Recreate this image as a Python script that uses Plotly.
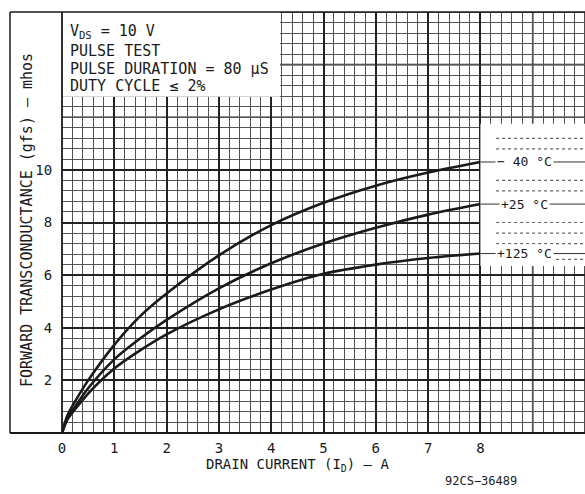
import plotly.graph_objects as go

# ---- data ----
drain_current = [0, 0.1, 0.25, 0.5, 1, 1.5, 2, 3, 4, 5, 6, 7, 8]
gfs_minus40 = [0, 0.65, 1.2, 2.0, 3.35, 4.45, 5.3, 6.75, 7.9, 8.75, 9.4, 9.9, 10.3]
gfs_plus25 = [0, 0.55, 1.0, 1.7, 2.8, 3.6, 4.3, 5.5, 6.45, 7.2, 7.8, 8.3, 8.7]
gfs_plus125 = [0, 0.5, 0.9, 1.5, 2.45, 3.15, 3.75, 4.7, 5.45, 6.05, 6.4, 6.65, 6.82]
series_labels = ["\u2212 40 \u00b0C", "+25 \u00b0C", "+125 \u00b0C"]

x_tick_vals = [0, 1, 2, 3, 4, 5, 6, 7, 8]
x_tick_text = ["0", "1", "2", "3", "4", "5", "6", "7", "8"]
x_extra_major = [9, 10]
y_tick_vals = [2, 4, 6, 8, 10]
y_tick_text = ["2", "4", "6", "8", "10"]
y_extra_major = [12, 14, 16]

conditions = ["V<sub>DS</sub> = 10 V", "PULSE TEST",
              "PULSE DURATION = 80 \u03bcS", "DUTY CYCLE \u2264 2%"]

FONT = "DejaVu Sans Mono"
INK = "#1a1a1a"
MAJOR = "#222"

fig = go.Figure()
all_series = [gfs_minus40, gfs_plus25, gfs_plus125]
for vals, lab in zip(all_series, series_labels):
    fig.add_trace(go.Scatter(x=drain_current, y=vals, mode="lines",
                             line=dict(color=INK, width=2.6, shape="spline", smoothing=0.8),
                             name=lab, showlegend=False, hoverinfo="skip"))

# extra major grid lines (unlabelled)
for xv in x_extra_major:
    fig.add_shape(type="line", xref="x", yref="paper", x0=xv, x1=xv, y0=0, y1=1,
                  line=dict(color=MAJOR, width=1.6), layer="below")
for yv in y_extra_major:
    fig.add_shape(type="line", xref="paper", yref="y", x0=0, x1=1, y0=yv, y1=yv,
                  line=dict(color=MAJOR, width=1.6), layer="below")

# white box for conditions (top-left) and labels box (right)
fig.add_shape(type="rect", xref="x", yref="y", x0=0, x1=4.17, y0=12.78, y1=16,
              fillcolor="white", line=dict(width=0), layer="above")
fig.add_shape(type="rect", xref="x", yref="y", x0=8.0, x1=10.2, y0=6.35, y1=11.75,
              fillcolor="white", line=dict(width=0), layer="above")
# dotted remnants of the grid in the label box
for yy in [11.2, 10.8, 9.6, 9.2, 8.0, 7.6, 7.2, 6.6]:
    fig.add_shape(type="line", xref="x", yref="y", x0=8.3, x1=10, y0=yy, y1=yy,
                  line=dict(color="#666", width=1.2, dash="dot"), layer="above")
# label leader lines
for vals, lab in zip(all_series, series_labels):
    fig.add_shape(type="line", xref="x", yref="y", x0=8.0, x1=10, y0=vals[-1], y1=vals[-1],
                  line=dict(color="#333", width=1), layer="above")
    fig.add_annotation(x=8.85, y=vals[-1], xref="x", yref="y", text=lab, showarrow=False,
                       font=dict(family=FONT, size=13, color=INK), bgcolor="white",
                       xanchor="center", yanchor="middle", borderpad=1)

# condition text
cond_y = [31, 51, 69, 86]
for t, py in zip(conditions, cond_y):
    fig.add_annotation(x=6 / 523, y=(433 - py) / 421, xref="paper", yref="paper",
                       text=t, showarrow=False, xanchor="left", yanchor="middle",
                       font=dict(family=FONT, size=15, color=INK))

# frame lines on the left
def px(xp):
    return (xp - 62) / 523
def py_(yp):
    return (433 - yp) / 421

fig.add_shape(type="line", xref="paper", yref="paper", x0=px(10), x1=1, y0=py_(12), y1=py_(12),
              line=dict(color=INK, width=1.5))
fig.add_shape(type="line", xref="paper", yref="paper", x0=px(10), x1=px(10), y0=py_(12), y1=py_(433),
              line=dict(color=INK, width=1.5))
fig.add_shape(type="line", xref="paper", yref="paper", x0=px(10), x1=1, y0=py_(433), y1=py_(433),
              line=dict(color=INK, width=2))
fig.add_shape(type="line", xref="paper", yref="paper", x0=0, x1=0, y0=0, y1=1,
              line=dict(color=INK, width=1.8))

# axis titles
fig.add_annotation(x=px(27), y=py_(220), xref="paper", yref="paper", textangle=-90,
                   text="FORWARD TRANSCONDUCTANCE (gfs) \u2014 mhos", showarrow=False,
                   font=dict(family=FONT, size=15, color=INK), xanchor="center", yanchor="middle")
fig.add_annotation(x=px(297), y=py_(465), xref="paper", yref="paper",
                   text="DRAIN CURRENT (I<sub>D</sub>) \u2014 A", showarrow=False,
                   font=dict(family=FONT, size=14, color=INK), xanchor="center", yanchor="middle")
fig.add_annotation(x=px(481), y=py_(481), xref="paper", yref="paper",
                   text="92CS\u221236489", showarrow=False,
                   font=dict(family=FONT, size=12, color=INK), xanchor="center", yanchor="middle")

fig.update_layout(
    width=585, height=494,
    margin=dict(l=62, r=0, t=12, b=61),
    paper_bgcolor="white", plot_bgcolor="white",
    font=dict(family=FONT, size=14, color=INK),
    xaxis=dict(range=[0, 10], tickvals=x_tick_vals, ticktext=x_tick_text,
               showgrid=True, gridcolor=MAJOR, gridwidth=1.6,
               minor=dict(dtick=0.2, tick0=0, showgrid=True, gridcolor="#555", gridwidth=1),
               zeroline=False, showline=False, ticks="outside", ticklen=2,
               tickcolor="rgba(0,0,0,0)", fixedrange=True),
    yaxis=dict(range=[0, 16], tickvals=y_tick_vals, ticktext=y_tick_text,
               showgrid=True, gridcolor=MAJOR, gridwidth=1.6,
               minor=dict(dtick=0.4, tick0=0, showgrid=True, gridcolor="#555", gridwidth=1),
               zeroline=False, showline=False, ticks="outside", ticklen=6,
               tickcolor="rgba(0,0,0,0)", fixedrange=True),
)

fig.write_html("out.html")
